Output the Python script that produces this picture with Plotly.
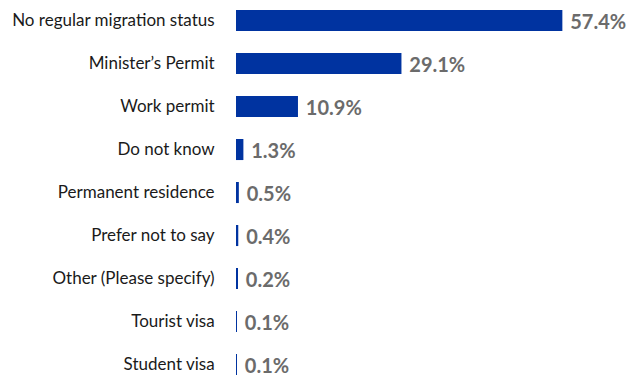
import plotly.graph_objects as go

categories = [
    "No regular migration status",
    "Minister\u2019s Permit",
    "Work permit",
    "Do not know",
    "Permanent residence",
    "Prefer not to say",
    "Other (Please specify)",
    "Tourist visa",
    "Student visa",
]
shares = [57.4, 29.1, 10.9, 1.3, 0.5, 0.4, 0.2, 0.1, 0.1]
value_labels = ["57.4%", "29.1%", "10.9%", "1.3%", "0.5%", "0.4%", "0.2%", "0.1%", "0.1%"]

fig = go.Figure(
    go.Bar(
        x=shares,
        y=categories,
        orientation="h",
        marker=dict(color="#0033A0", line=dict(width=0)),
        width=0.49,
        text=value_labels,
        texttemplate=" %{text}",
        textposition="outside",
        constraintext="none",
        textfont=dict(family="Lato", size=20, color="#6b6b6b", weight="bold"),
        cliponaxis=False,
    )
)

fig.update_layout(
    width=642,
    height=376,
    margin=dict(l=236, r=8, t=0, b=0),
    paper_bgcolor="white",
    plot_bgcolor="white",
    showlegend=False,
    xaxis=dict(range=[0, 70], visible=False, fixedrange=True),
    yaxis=dict(
        categoryorder="array",
        categoryarray=categories,
        range=[8.267, -0.477],
        showgrid=False,
        zeroline=False,
        showline=False,
        ticks="outside",
        ticklen=17,
        tickcolor="rgba(0,0,0,0)",
        tickfont=dict(family="Lato", size=17, color="#1a1a1a", weight="normal"),
    ),
)

fig.write_html("out.html")
